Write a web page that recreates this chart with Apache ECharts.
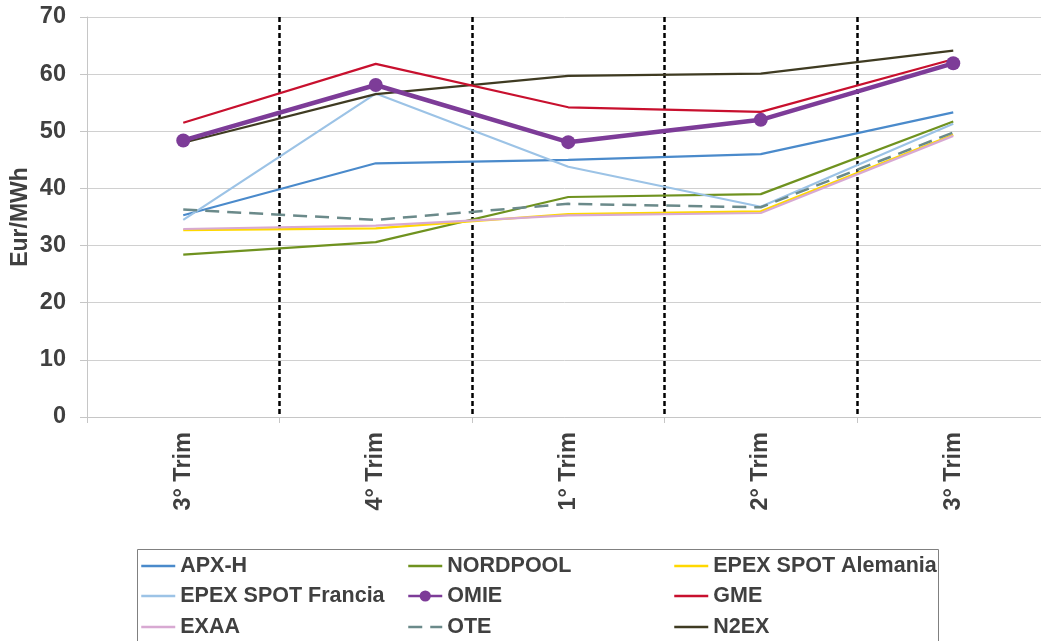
<!DOCTYPE html>
<html>
<head>
<meta charset="utf-8">
<script src="https://cdn.jsdelivr.net/npm/echarts@6/dist/echarts.min.js"></script>
<style>
  html, body { margin: 0; padding: 0; background: #ffffff; }
  #chart { width: 1041px; height: 641px; }
</style>
</head>
<body>
<div id="chart"></div>
<script>
// Quarterly prices (Eur/MWh) on the European power exchanges
const categories = ['3° Trim', '4° Trim', '1° Trim', '2° Trim', '3° Trim'];

const apxH         = [35.3, 44.4, 45.0, 46.0, 53.3];
const nordpool     = [28.4, 30.6, 38.5, 39.0, 51.7];
const epexAlemania = [32.7, 33.0, 35.5, 36.0, 49.4];
const epexFrancia  = [34.5, 56.6, 43.8, 36.8, 51.3];
const omie         = [48.4, 58.1, 48.1, 52.0, 61.9];
const gme          = [51.5, 61.8, 54.2, 53.4, 62.6];
const exaa         = [32.9, 33.5, 35.3, 35.7, 49.2];
const ote          = [36.3, 34.5, 37.3, 36.7, 49.8];
const n2ex         = [48.0, 56.5, 59.7, 60.1, 64.1];

// legend layout: three columns, read row by row
const legendRows = [
  ['APX-H', 'NORDPOOL', 'EPEX SPOT Alemania'],
  ['EPEX SPOT Francia', 'OMIE', 'GME'],
  ['EXAA', 'OTE', 'N2EX']
];

const yTicks = { min: 0, max: 70, interval: 10 };

const FONT = '"Liberation Sans", Arial, sans-serif';
const TEXT = '#404040';

function line(name, data, color, extra) {
  return Object.assign({
    name: name,
    type: 'line',
    data: data,
    symbol: 'none',
    lineStyle: { color: color, width: 2.2 },
    itemStyle: { color: color },
    emphasis: { disabled: true }
  }, extra || {});
}

const chart = echarts.init(document.getElementById('chart'), null, { renderer: 'canvas' });

// plain-line legend entries hide the marker; OMIE keeps its dot
const markerSeries = ['OMIE'];
const colLeft = [140, 407, 673];
const rowTop = [555, 585, 616];
const legends = [];
legendRows.forEach((row, r) => {
  row.forEach((name, c) => {
    legends.push({
      left: colLeft[c],
      top: rowTop[r],
      itemWidth: 34,
      itemHeight: 14,
      padding: 0,
      selectedMode: false,
      textStyle: { fontFamily: FONT, fontWeight: 'bold', fontSize: 21.5, color: TEXT, lineHeight: 20 },
      lineStyle: { width: 2.5 },
      data: [markerSeries.includes(name)
        ? { name: name }
        : { name: name, itemStyle: { opacity: 0 } }]
    });
  });
});

chart.setOption({
  animation: false,
  backgroundColor: '#ffffff',
  grid: { left: 87, top: 17, width: 962.5, height: 400, containLabel: false, outerBoundsMode: 'none' },
  xAxis: [
    {
      type: 'category',
      data: categories,
      boundaryGap: true,
      axisLine: { show: true, lineStyle: { color: '#c6c6c6', width: 1 } },
      axisTick: { show: true, length: 6, lineStyle: { color: '#c6c6c6' } },
      splitLine: { show: false },
      axisLabel: {
        rotate: 90,
        margin: 15,
        fontFamily: FONT,
        fontWeight: 'bold',
        fontSize: 23.5,
        color: TEXT
      }
    },
    {
      // separators between consecutive quarters
      type: 'value',
      min: 0,
      max: 5,
      interval: 1,
      position: 'bottom',
      axisLine: { show: false },
      axisTick: { show: false },
      axisLabel: { show: false },
      splitLine: {
        show: true,
        showMinLine: false,
        showMaxLine: false,
        lineStyle: { color: '#000000', width: 2.5, type: [5, 3] }
      }
    }
  ],
  yAxis: {
    type: 'value',
    min: yTicks.min,
    max: yTicks.max,
    interval: yTicks.interval,
    name: 'Eur/MWh',
    nameLocation: 'middle',
    nameGap: 55,
    nameMoveOverlap: false,
    nameTextStyle: { fontFamily: FONT, fontWeight: 'bold', fontSize: 23, color: TEXT },
    axisLine: { show: true, lineStyle: { color: '#c6c6c6', width: 1 } },
    axisTick: { show: true, length: 7, lineStyle: { color: '#c6c6c6' } },
    splitLine: { show: true, lineStyle: { color: '#d0d0d0', width: 1 } },
    axisLabel: {
      margin: 21,
      fontFamily: FONT,
      fontWeight: 'bold',
      fontSize: 23.5,
      color: TEXT
    }
  },
  legend: legends,
  graphic: [
    {
      type: 'rect',
      left: 135,
      top: 547,
      shape: { width: 801, height: 120 },
      style: { fill: 'none', stroke: '#808080', lineWidth: 1 },
      silent: true
    }
  ],
  series: [
    line('APX-H', apxH, '#4a8acb'),
    line('NORDPOOL', nordpool, '#6f921f'),
    line('EPEX SPOT Alemania', epexAlemania, '#ffd800'),
    line('EPEX SPOT Francia', epexFrancia, '#9cc3e6'),
    line('EXAA', exaa, '#d8a9d2'),
    line('OTE', ote, '#6b8a8a', { lineStyle: { color: '#6b8a8a', width: 2.5, type: [14, 8] } }),
    line('N2EX', n2ex, '#3f3b22'),
    line('GME', gme, '#c8102e'),
    line('OMIE', omie, '#7d3c98', {
      symbol: 'circle',
      symbolSize: 14,
      lineStyle: { color: '#7d3c98', width: 4.5 },
      z: 5
    })
  ]
});
</script>
</body>
</html>
